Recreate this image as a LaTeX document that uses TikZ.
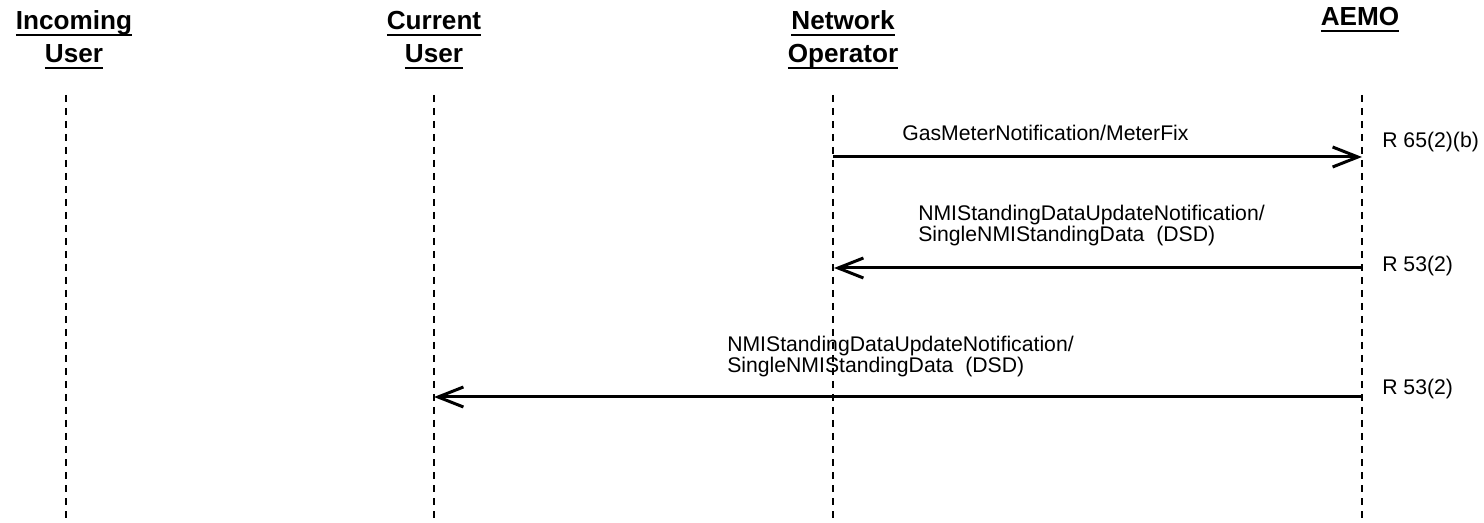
\documentclass[tikz,border=0pt]{standalone}
\usepackage{fontspec}
\setmainfont{Liberation Sans}
\usetikzlibrary{arrows.meta}
\newcommand{\hul}[1]{\setbox0=\hbox{#1}\rlap{\rule[-4.8pt]{\wd0}{1.8pt}}\box0}
\begin{document}
\begin{tikzpicture}[x=0.75pt,y=-0.75pt,
  life/.style={line width=1.2pt, dash pattern=on 5.25pt off 4.5pt},
  msg/.style={line width=2.25pt, -{Straight Barb[length=19pt,width=15pt]}},
  head/.style={font=\fontsize{19.6pt}{24.75pt}\selectfont\bfseries, align=center, inner sep=0pt, anchor=base},
  lbl/.style={font=\fontsize{15.9pt}{16.3pt}\selectfont, align=left, inner sep=0pt, anchor=base west}]
\useasboundingbox (0,0) rectangle (1484,523);
% headers (base = last line)
\node[head] (hin) at (74,63) {\hul{Incoming}\\\hul{User}};
\node[head] (hcu) at (434,63) {\hul{Current}\\\hul{User}};
\node[head] (hno) at (843,63) {\hul{Network}\\\hul{Operator}};
\node[head] (hae) at (1360,26) {\hul{AEMO}};
% lifelines
\coordinate (inT) at (66,95);   \coordinate (inB) at (66,523);
\coordinate (cuT) at (434,95);  \coordinate (cuB) at (434,523);
\coordinate (noT) at (833,95);  \coordinate (noB) at (833,523);
\coordinate (aeT) at (1362,95); \coordinate (aeB) at (1362,523);
\draw[life] (inT) -- (inB);
\draw[life] (cuT) -- (cuB);
\draw[life] (noT) -- (noB);
\draw[life] (aeT) -- (aeB);
% messages
\coordinate (m1a) at (833,157);  \coordinate (m1b) at (1362,157);
\coordinate (m2a) at (1362,268); \coordinate (m2b) at (834,268);
\coordinate (m3a) at (1362,397); \coordinate (m3b) at (434,397);
\draw[msg] (m1a) -- (m1b);
\draw[msg] (m2a) -- (m2b);
\draw[msg] (m3a) -- (m3b);
% labels (base = last line)
\node[lbl] (l1) at (902,141) {GasMeterNotification/MeterFix};
\node[lbl] (l2) at (918,242) {NMIStandingDataUpdateNotification/\\SingleNMIStandingData\ \ (DSD)};
\node[lbl] (l3) at (727,373) {NMIStandingDataUpdateNotification/\\SingleNMIStandingData\ \ (DSD)};
\node[lbl] (r1) at (1382,148) {R 65(2)(b)};
\node[lbl] (r2) at (1382,272) {R 53(2)};
\node[lbl] (r3) at (1382,395) {R 53(2)};
\end{tikzpicture}
\end{document}
